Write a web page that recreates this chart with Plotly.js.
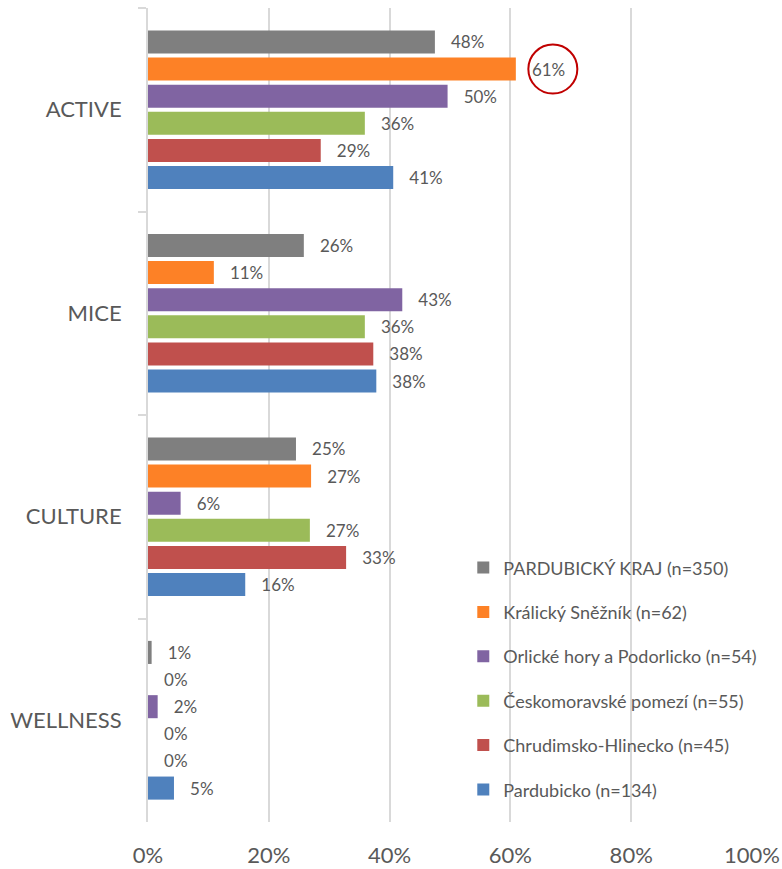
<!DOCTYPE html>
<html>
<head>
<meta charset="utf-8">
<script src="https://cdn.plot.ly/plotly-3.0.1.min.js"></script>
<style>html,body{margin:0;padding:0;background:#fff;}#chart{width:782px;height:869px;}</style>
</head>
<body>
<div id="chart"></div>
<script>
// Categories (top to bottom)
const categories = ["ACTIVE", "MICE", "CULTURE", "WELLNESS"];

// Series names (legend order, top to bottom within each group)
const seriesNames = [
  "PARDUBICKÝ KRAJ (n=350)",
  "Králický Sněžník (n=62)",
  "Orlické hory a Podorlicko (n=54)",
  "Českomoravské pomezí (n=55)",
  "Chrudimsko-Hlinecko (n=45)",
  "Pardubicko (n=134)"
];

// Values in %
const pardubickyKraj   = [47.5, 25.8, 24.5, 0.6];
const kralickySneznik  = [60.9, 10.9, 27.0, 0];
const orlickeHory      = [49.6, 42.1, 5.4, 1.6];
const ceskomoravske    = [35.9, 35.9, 26.8, 0];
const chrudimsko       = [28.6, 37.3, 32.8, 0];
const pardubicko       = [40.6, 37.8, 16.1, 4.3];

// Data labels as printed in the chart
const labelsKraj       = ["48%", "26%", "25%", "1%"];
const labelsKralicky   = ["61%", "11%", "27%", "0%"];
const labelsOrlicke    = ["50%", "43%", "6%", "2%"];
const labelsCeskomor   = ["36%", "36%", "27%", "0%"];
const labelsChrudim    = ["29%", "38%", "33%", "0%"];
const labelsPardubicko = ["41%", "38%", "16%", "5%"];

const xTickVals = [0, 20, 40, 60, 80, 100];
const xTickText = ["0%", "20%", "40%", "60%", "80%", "100%"];

const colors = ["#7F7F7F", "#FD8126", "#8064A2", "#9BBB59", "#C0504D", "#4F81BD"];

const values = [pardubickyKraj, kralickySneznik, orlickeHory, ceskomoravske, chrudimsko, pardubicko];
const labels = [labelsKraj, labelsKralicky, labelsOrlicke, labelsCeskomor, labelsChrudim, labelsPardubicko];

const FONT = "Lato, 'Open Sans', sans-serif";
const TXT = "#595959";
const pad = "\u00A0\u00A0\u00A0";

const traces = values.map((v, i) => ({
  type: "bar",
  orientation: "h",
  name: seriesNames[i],
  legendgroup: "g" + i,
  y: categories,
  x: v,
  text: labels[i].map(t => pad + t),
  textposition: "outside",
  textfont: {family: FONT, size: 17, color: TXT},
  cliponaxis: false,
  marker: {color: colors[i]},
  hoverinfo: "skip"
}));

const bargap = 0.2;
const nSeries = values.length;
// highlight: Králický Sněžník, ACTIVE
const hiSeries = 1, hiCat = 0;
const slot = (1 - bargap) / nSeries;
const hiY = hiCat + (-(1 - bargap) / 2 + slot * (hiSeries + 0.5));

const layout = {
  width: 782,
  height: 869,
  margin: {l: 148, r: 30, t: 8, b: 47},
  paper_bgcolor: "#fff",
  plot_bgcolor: "#fff",
  barmode: "group",
  bargap: bargap,
  bargroupgap: 0.15,
  font: {family: FONT, color: TXT},
  showlegend: true,
  legend: {
    x: 0.522, y: 0.335, xanchor: "left", yanchor: "top",
    font: {family: FONT, size: 18, color: TXT},
    bgcolor: "rgba(0,0,0,0)",
    tracegroupgap: 18,
    traceorder: "grouped"
  },
  xaxis: {
    range: [0, 100],
    tickvals: xTickVals,
    ticktext: xTickText,
    tickfont: {family: FONT, size: 22, color: TXT},
    showgrid: true,
    gridcolor: "#D9D9D9",
    gridwidth: 2,
    zeroline: false,
    showline: false,
    ticks: "",
    ticklabelstandoff: 18,
    fixedrange: true
  },
  yaxis: {
    type: "category",
    categoryorder: "array",
    categoryarray: categories,
    autorange: "reversed",
    tickson: "boundaries",
    ticks: "outside",
    ticklen: 8,
    tickwidth: 2,
    tickcolor: "#D9D9D9",
    showline: true,
    linecolor: "#D9D9D9",
    linewidth: 2,
    showgrid: false,
    zeroline: false,
    tickfont: {family: FONT, size: 22, color: TXT},
    ticklabelstandoff: 20,
    fixedrange: true
  },
  shapes: [{
    type: "circle",
    xref: "x", yref: "y",
    xsizemode: "pixel", ysizemode: "pixel",
    xanchor: values[hiSeries][hiCat],
    yanchor: hiY,
    x0: 12.5, x1: 61.5,
    y0: -24.5, y1: 24.5,
    line: {color: "#C00000", width: 2},
    fillcolor: "rgba(0,0,0,0)"
  }]
};

Plotly.newPlot("chart", traces, layout, {displayModeBar: false, staticPlot: true});
</script>
</body>
</html>
